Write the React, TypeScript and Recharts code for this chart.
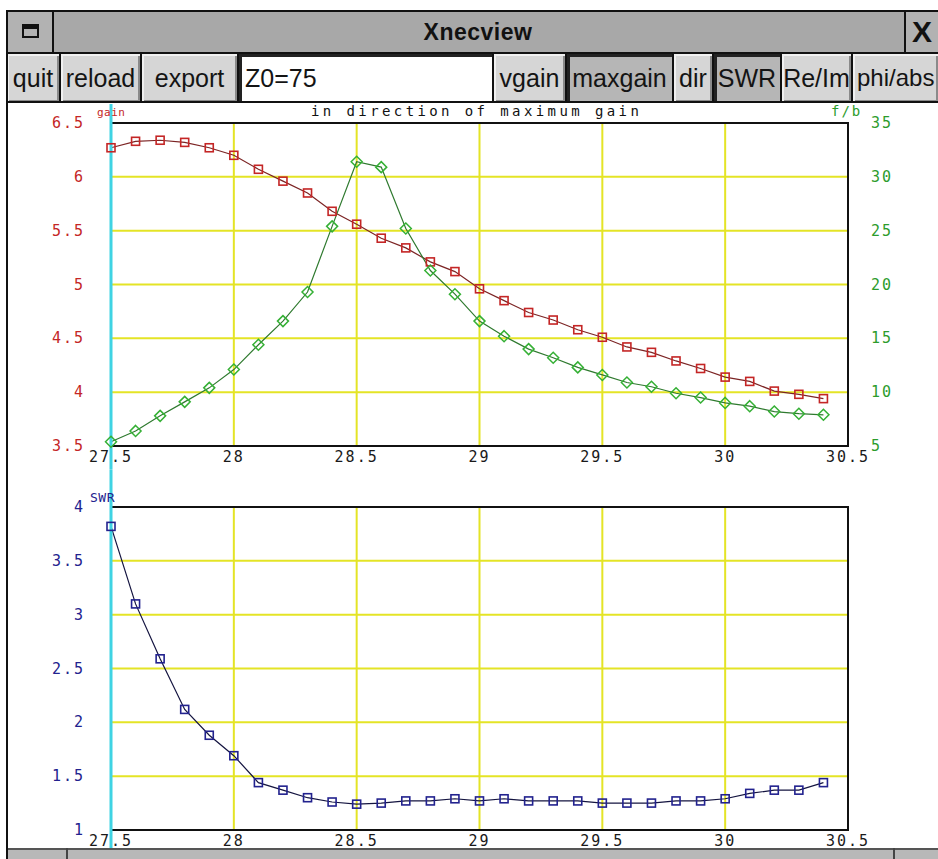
import React from "react";
import {
  LineChart,
  Line,
  XAxis,
  YAxis,
  CartesianGrid,
  ReferenceLine,
  ReferenceArea,
} from "recharts";

// frequency sweep (MHz)
const freq = [
  27.5, 27.6, 27.7, 27.8, 27.9, 28.0, 28.1, 28.2, 28.3, 28.4, 28.5, 28.6,
  28.7, 28.8, 28.9, 29.0, 29.1, 29.2, 29.3, 29.4, 29.5, 29.6, 29.7, 29.8,
  29.9, 30.0, 30.1, 30.2, 30.3, 30.4,
];
// gain in direction of maximum gain (dBi, left axis)
const gain = [
  6.27, 6.33, 6.34, 6.32, 6.27, 6.2, 6.07, 5.96, 5.85, 5.68, 5.56, 5.43, 5.34,
  5.21, 5.12, 4.96, 4.85, 4.74, 4.67, 4.58, 4.51, 4.42, 4.37, 4.29, 4.22, 4.14,
  4.1, 4.01, 3.98, 3.94,
];
// front/back ratio (dB, right axis)
const fb = [
  5.4, 6.4, 7.8, 9.1, 10.4, 12.1, 14.4, 16.6, 19.3, 25.4, 31.4, 30.9, 25.2,
  21.3, 19.1, 16.6, 15.2, 14.0, 13.2, 12.3, 11.6, 10.9, 10.5, 9.9, 9.5, 9.0,
  8.7, 8.2, 8.0, 7.9,
];
// SWR for Z0=75
const swr = [
  3.82, 3.1, 2.59, 2.12, 1.88, 1.69, 1.44, 1.37, 1.3, 1.26, 1.24, 1.25, 1.27,
  1.27, 1.29, 1.27, 1.29, 1.27, 1.27, 1.27, 1.25, 1.25, 1.25, 1.27, 1.27, 1.29,
  1.34, 1.37, 1.37, 1.44,
];

const freqTicks = [27.5, 28, 28.5, 29, 29.5, 30, 30.5];
const gainTicks = [3.5, 4, 4.5, 5, 5.5, 6, 6.5];
const fbTicks = [5, 10, 15, 20, 25, 30, 35];
const swrTicks = [1, 1.5, 2, 2.5, 3, 3.5, 4];
const markerFreq = 27.5;

const buttons = [
  { label: "quit", x0: 7, x1: 61 },
  { label: "reload", x0: 61, x1: 142 },
  { label: "export", x0: 142, x1: 239 },
  { label: "Z0=75", x0: 239, x1: 494, field: true },
  { label: "vgain", x0: 494, x1: 567 },
  { label: "maxgain", x0: 567, x1: 674, pressed: true },
  { label: "dir", x0: 674, x1: 714 },
  { label: "SWR", x0: 714, x1: 782, pressed: true },
  { label: "Re/Im", x0: 782, x1: 853 },
  { label: "phi/abs", x0: 853, x1: 938, left: true },
];

const data = freq.map((f, i) => ({ f, gain: gain[i], fb: fb[i], swr: swr[i] }));

const sans = '"Liberation Sans", Arial, sans-serif';
const mono = '"DejaVu Sans Mono", monospace';
const tickFont = { fontFamily: mono, fontSize: 15, letterSpacing: 2 };

const RED = "#c42626";
const GREEN = "#2c9c2c";
const BLUE = "#22228e";
const GRID = "#e4e426";
const CYAN = "#3fd3e3";

const squareDot = (color: string, size: number) => (p: any) => {
  if (p.cx == null || p.cy == null) return <g key={`e-${p.index}`} />;
  return (
    <rect
      key={`s-${p.index}`}
      x={p.cx - size / 2}
      y={p.cy - size / 2}
      width={size}
      height={size}
      fill="none"
      stroke={color}
      strokeWidth={1.6}
    />
  );
};

const diamondDot = (color: string, r: number) => (p: any) => {
  if (p.cx == null || p.cy == null) return <g key={`e-${p.index}`} />;
  const { cx, cy } = p;
  return (
    <polygon
      key={`d-${p.index}`}
      points={`${cx},${cy - r} ${cx + r},${cy} ${cx},${cy + r} ${cx - r},${cy}`}
      fill="none"
      stroke={color}
      strokeWidth={1.5}
    />
  );
};

const xTick = (p: any) => (
  <text
    x={p.x}
    y={p.y + 11}
    textAnchor="middle"
    dominantBaseline="central"
    fill="#1a1a1a"
    style={tickFont}
  >
    {String(p.payload.value)}
  </text>
);

const leftTick = (color: string) => (p: any) => (
  <text
    x={p.x - 26}
    y={p.y}
    textAnchor="end"
    dominantBaseline="central"
    fill={color}
    style={tickFont}
  >
    {String(p.payload.value)}
  </text>
);

const rightTick = (color: string) => (p: any) => (
  <text
    x={p.x + 23}
    y={p.y}
    textAnchor="start"
    dominantBaseline="central"
    fill={color}
    style={tickFont}
  >
    {String(p.payload.value)}
  </text>
);

const abs = (s: React.CSSProperties): React.CSSProperties => ({
  position: "absolute",
  boxSizing: "border-box",
  ...s,
});

const Chrome = () => (
  <>
    {/* title bar */}
    <div style={abs({ left: 6, top: 10, width: 932, height: 2, background: "#111" })} />
    <div style={abs({ left: 8, top: 12, width: 930, height: 40, background: "#a8a8a8" })} />
    <div
      style={abs({
        left: 8,
        top: 12,
        width: 46,
        height: 40,
        background: "#b2b2b2",
        borderRight: "2px solid #111",
      })}
    />
    <div
      style={abs({
        left: 22,
        top: 24,
        width: 17,
        height: 14,
        border: "2px solid #111",
        borderTop: "5px solid #111",
      })}
    />
    <div
      style={abs({
        left: 378,
        top: 12,
        width: 200,
        height: 40,
        textAlign: "center",
        lineHeight: "40px",
        fontFamily: sans,
        fontWeight: "bold",
        fontSize: 23,
        color: "#111",
        letterSpacing: 0.5,
      })}
    >
      Xnecview
    </div>
    <div
      style={abs({
        left: 904,
        top: 12,
        width: 34,
        height: 40,
        background: "#b2b2b2",
        borderLeft: "2px solid #111",
        fontFamily: sans,
        fontWeight: "bold",
        fontSize: 30,
        lineHeight: "40px",
        paddingLeft: 6,
        color: "#111",
        overflow: "hidden",
      })}
    >
      X
    </div>
    <div style={abs({ left: 6, top: 52, width: 932, height: 2, background: "#111" })} />

    {/* button row */}
    {buttons.map((b) => (
      <div
        key={b.label}
        style={abs({
          left: b.x0,
          top: 54,
          width: b.x1 - b.x0,
          height: 48,
          background: b.field ? "#fff" : b.pressed ? "#b6b6b6" : "#d6d6d6",
          borderRight: b.left ? "none" : "2px solid #111",
          boxShadow:
            b.field || b.pressed
              ? "inset 3px 3px 0 #222"
              : "inset 2px 2px 0 #f0f0f0, inset -2px -2px 0 #8a8a8a",
          fontFamily: sans,
          fontSize: b.left ? 24 : 25,
          lineHeight: "48px",
          color: "#141414",
          textAlign: b.field || b.left ? "left" : "center",
          paddingLeft: b.field ? 6 : b.left ? 4 : 0,
          whiteSpace: "nowrap",
        })}
      >
        {b.label}
      </div>
    ))}
    <div style={abs({ left: 6, top: 101, width: 932, height: 2, background: "#111" })} />

    {/* bottom bar */}
    <div
      style={abs({
        left: 8,
        top: 848,
        width: 930,
        height: 11,
        background: "#b8b8b8",
        borderTop: "2px solid #555",
      })}
    />
    <div style={abs({ left: 66, top: 848, width: 2, height: 11, background: "#444" })} />
    <div style={abs({ left: 893, top: 848, width: 2, height: 11, background: "#444" })} />

    {/* window left border */}
    <div style={abs({ left: 6, top: 10, width: 2, height: 849, background: "#111" })} />
  </>
);

const Labels = () => (
  <>
    <div
      style={abs({
        left: 311,
        top: 103,
        fontFamily: mono,
        fontSize: 14,
        letterSpacing: 3.4,
        color: "#111",
        whiteSpace: "nowrap",
        lineHeight: "16px",
      })}
    >
      in direction of maximum gain
    </div>
    <div
      style={abs({
        left: 831,
        top: 103,
        fontFamily: mono,
        fontSize: 14,
        letterSpacing: 2,
        color: GREEN,
        whiteSpace: "nowrap",
        lineHeight: "16px",
      })}
    >
      f/b
    </div>
    <div
      style={abs({
        left: 97,
        top: 106,
        fontFamily: mono,
        fontSize: 11,
        letterSpacing: 0.5,
        color: RED,
        lineHeight: "13px",
      })}
    >
      gain
    </div>
    <div
      style={abs({
        left: 90,
        top: 490,
        fontFamily: mono,
        fontSize: 13,
        letterSpacing: 0.5,
        color: BLUE,
        lineHeight: "15px",
      })}
    >
      SWR
    </div>
  </>
);

export default function App() {
  return (
    <div
      style={{
        position: "absolute",
        left: 0,
        top: 0,
        width: 938,
        height: 859,
        background: "#fff",
        overflow: "hidden",
      }}
    >
      <div style={abs({ left: 0, top: 104 })}>
        <LineChart
          width={938}
          height={366}
          data={data}
          margin={{ top: 19, right: 40, bottom: 0, left: 61 }}
        >
          <CartesianGrid stroke={GRID} strokeWidth={2} yAxisId="gain" />
          <XAxis
            dataKey="f"
            type="number"
            domain={[27.5, 30.5]}
            ticks={freqTicks}
            interval={0}
            height={24}
            tickSize={0}
            tickMargin={0}
            tickLine={false}
            axisLine={false}
            tick={xTick}
          />
          <YAxis
            yAxisId="gain"
            orientation="left"
            type="number"
            domain={[3.5, 6.5]}
            ticks={gainTicks}
            interval={0}
            width={50}
            tickSize={0}
            tickMargin={0}
            tickLine={false}
            axisLine={false}
            tick={leftTick(RED)}
          />
          <YAxis
            yAxisId="fb"
            orientation="right"
            type="number"
            domain={[5, 35]}
            ticks={fbTicks}
            interval={0}
            width={50}
            tickSize={0}
            tickMargin={0}
            tickLine={false}
            axisLine={false}
            tick={rightTick(GREEN)}
          />
          <ReferenceArea
            yAxisId="gain"
            x1={27.5}
            x2={30.5}
            y1={3.5}
            y2={6.5}
            fill="none"
            fillOpacity={0}
            stroke="#111"
            strokeWidth={2}
            ifOverflow="visible"
          />
          <Line
            yAxisId="gain"
            dataKey="gain"
            type="linear"
            stroke="#7c2424"
            strokeWidth={1.2}
            dot={squareDot(RED, 8)}
            activeDot={false}
            isAnimationActive={false}
          />
          <Line
            yAxisId="fb"
            dataKey="fb"
            type="linear"
            stroke="#2f7a2f"
            strokeWidth={1.2}
            dot={diamondDot("#35b035", 5.5)}
            activeDot={false}
            isAnimationActive={false}
          />
          <ReferenceLine
            yAxisId="gain"
            segment={[
              { x: markerFreq, y: 6.68 },
              { x: markerFreq, y: 3.28 },
            ]}
            stroke={CYAN}
            strokeWidth={3}
            ifOverflow="visible"
          />
        </LineChart>
      </div>

      <div style={abs({ left: 0, top: 470 })}>
        <LineChart
          width={938}
          height={380}
          data={data}
          margin={{ top: 37, right: 90, bottom: 0, left: 61 }}
        >
          <CartesianGrid stroke={GRID} strokeWidth={2} />
          <XAxis
            dataKey="f"
            type="number"
            domain={[27.5, 30.5]}
            ticks={freqTicks}
            interval={0}
            height={20}
            tickSize={0}
            tickMargin={0}
            tickLine={false}
            axisLine={false}
            tick={xTick}
          />
          <YAxis
            type="number"
            domain={[1, 4]}
            ticks={swrTicks}
            interval={0}
            width={50}
            tickSize={0}
            tickMargin={0}
            tickLine={false}
            axisLine={false}
            tick={leftTick(BLUE)}
          />
          <ReferenceArea
            x1={27.5}
            x2={30.5}
            y1={1}
            y2={4}
            fill="none"
            fillOpacity={0}
            stroke="#111"
            strokeWidth={2}
            ifOverflow="visible"
          />
          <Line
            dataKey="swr"
            type="linear"
            stroke="#141440"
            strokeWidth={1.2}
            dot={squareDot(BLUE, 8)}
            activeDot={false}
            isAnimationActive={false}
          />
          <ReferenceLine
            segment={[
              { x: markerFreq, y: 4.35 },
              { x: markerFreq, y: 0.82 },
            ]}
            stroke={CYAN}
            strokeWidth={3}
            ifOverflow="visible"
          />
        </LineChart>
      </div>

      <Labels />
      <Chrome />
    </div>
  );
}
